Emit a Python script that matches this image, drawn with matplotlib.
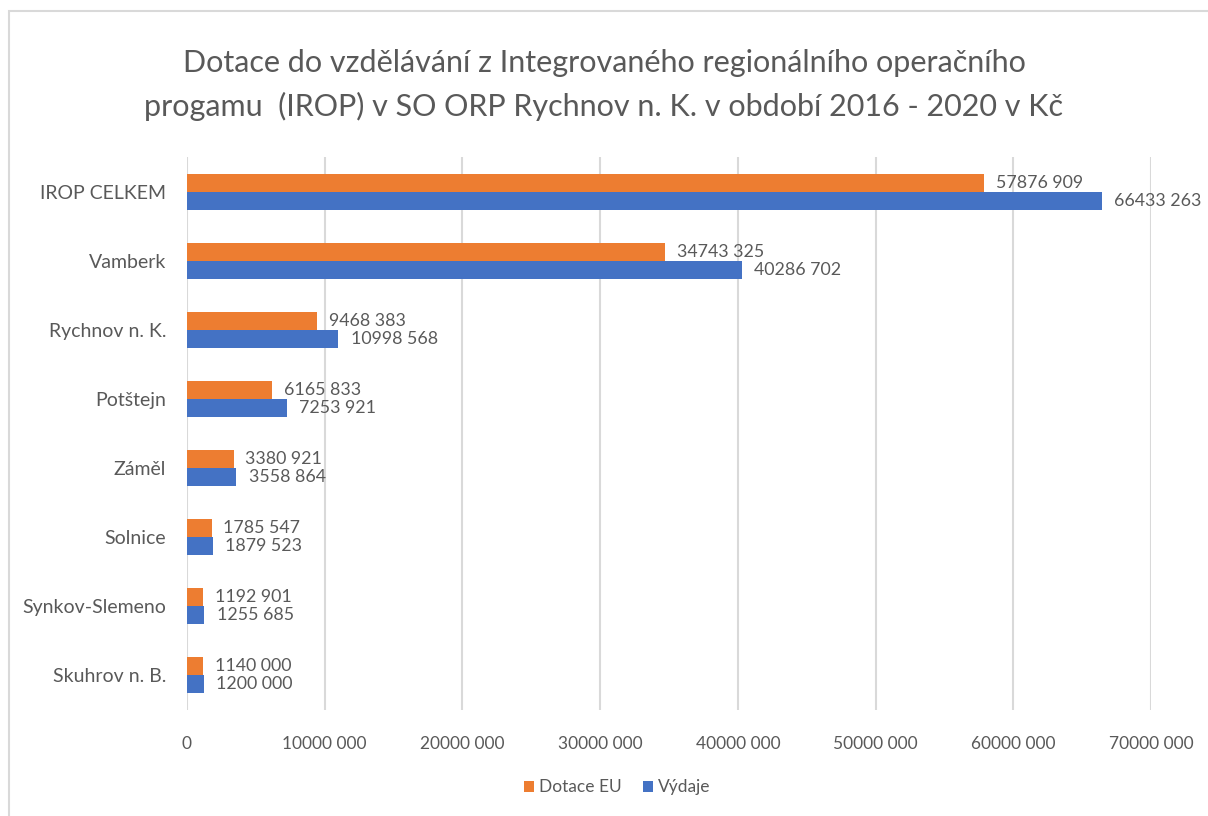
import matplotlib
matplotlib.use("Agg")
import matplotlib.pyplot as plt
from matplotlib.patches import Rectangle

plt.rcParams['font.family'] = ['Lato', 'DejaVu Sans']

categories = ["IROP CELKEM", "Vamberk", "Rychnov n. K.", "Potštejn", "Záměl",
              "Solnice", "Synkov-Slemeno", "Skuhrov n. B."]
dotace_eu = [57876909, 34743325, 9468383, 6165833, 3380921, 1785547, 1192901, 1140000]
vydaje = [66433263, 40286702, 10998568, 7253921, 3558864, 1879523, 1255685, 1200000]
x_ticks = [0, 10000000, 20000000, 30000000, 40000000, 50000000, 60000000, 70000000]

ORANGE = "#ED7D31"
BLUE = "#4472C4"
TEXT = "#595959"


def fmt(v):
    if v < 1000:
        return str(v)
    return f"{v // 1000} {v % 1000:03d}"


fig = plt.figure(figsize=(12.08, 8.16), dpi=100)
ax = fig.add_axes([0.1548, 0.1305, 0.798, 0.6765])

fig.patches.append(Rectangle((9 / 1208, -0.1), 1.2, 1 - 11 / 816 + 0.1,
                             transform=fig.transFigure, fill=False,
                             edgecolor="#D9D9D9", linewidth=1.5))

y = list(range(len(categories)))
h = 0.26
ax.barh([i - h / 2 for i in y], dotace_eu, height=h, color=ORANGE, label="Dotace EU")
ax.barh([i + h / 2 for i in y], vydaje, height=h, color=BLUE, label="Výdaje")

for i in y:
    ax.annotate(fmt(dotace_eu[i]), (dotace_eu[i], i - h / 2), xytext=(8.5, 0),
                textcoords="offset points", va="center", ha="left",
                fontsize=12.8, color=TEXT)
    ax.annotate(fmt(vydaje[i]), (vydaje[i], i + h / 2), xytext=(9, 0),
                textcoords="offset points", va="center", ha="left",
                fontsize=12.8, color=TEXT)

ax.set_ylim(len(categories) - 0.5, -0.5)
ax.set_xlim(0, 70000000)
ax.set_yticks(y)
ax.set_yticklabels(categories, fontsize=14, color=TEXT)
ax.set_xticks(x_ticks)
ax.set_xticklabels([fmt(v) for v in x_ticks], fontsize=12.5, color=TEXT)
ax.tick_params(axis="both", length=0)
ax.tick_params(axis="x", pad=19)
ax.tick_params(axis="y", pad=15)
ax.grid(axis="x", color="#D9D9D9", linewidth=1.5)
ax.set_axisbelow(True)
for s in ax.spines.values():
    s.set_visible(False)

fig.text(0.5, 0.896, "Dotace do vzdělávání z Integrovaného regionálního operačního\n"
         "progamu  (IROP) v SO ORP Rychnov n. K. v období 2016 - 2020 v Kč",
         ha="center", va="center", fontsize=22, color=TEXT, linespacing=1.6)

fig.legend(loc="center", bbox_to_anchor=(0.511, 0.035), ncol=2, frameon=False,
           fontsize=12.5, labelcolor=TEXT, handlelength=0.6, handleheight=0.6,
           handletextpad=0.3, columnspacing=1.2)

fig.savefig("out.png", dpi=100)
